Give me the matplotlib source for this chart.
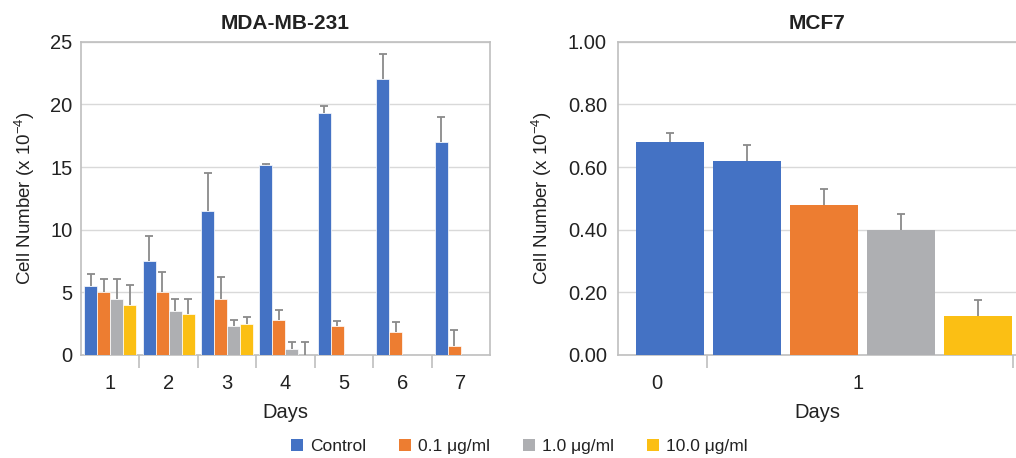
import numpy as np
import matplotlib
matplotlib.use("Agg")
import matplotlib.pyplot as plt
from matplotlib.patches import Patch

plt.rcParams['font.family'] = ['Liberation Sans', 'DejaVu Sans']

# ---- data: MDA-MB-231 ----
days = ["1", "2", "3", "4", "5", "6", "7"]
series = ["Control", "0.1 μg/ml", "1.0 μg/ml", "10.0 μg/ml"]
mda_control = [5.5, 7.5, 11.5, 15.2, 19.3, 22.0, 17.0]
mda_01 = [5.0, 5.0, 4.5, 2.8, 2.3, 1.8, 0.75]
mda_10 = [4.5, 3.5, 2.3, 0.5, np.nan, np.nan, np.nan]
mda_100 = [4.0, 3.3, 2.5, 0.0, np.nan, np.nan, np.nan]
mda_control_err = [1.0, 2.0, 3.0, 0.05, 0.6, 2.0, 2.0]
mda_01_err = [1.1, 1.6, 1.7, 0.8, 0.4, 0.8, 1.25]
mda_10_err = [1.6, 1.0, 0.5, 0.5, np.nan, np.nan, np.nan]
mda_100_err = [1.6, 1.2, 0.5, 1.0, np.nan, np.nan, np.nan]

# ---- data: MCF7 ----
mcf_labels = ["0", "1"]
mcf_series = ["Control", "Control", "0.1 μg/ml", "1.0 μg/ml", "10.0 μg/ml"]
mcf_values = [0.68, 0.62, 0.48, 0.40, 0.125]
mcf_err = [0.03, 0.05, 0.05, 0.05, 0.05]

colors = {"Control": "#4472C4", "0.1 μg/ml": "#ED7D31",
          "1.0 μg/ml": "#AEAFB2", "10.0 μg/ml": "#FBBF14"}
err_color = "#8A8A8A"
spine_color = "#BFBFBF"
grid_color = "#D9D9D9"
text_color = "#222222"
FS = 14.5


def upper_err(ax, pos, v, e):
    pos = np.asarray(pos, float)
    v = np.asarray(v, float)
    e = np.asarray(e, float)
    ok = ~np.isnan(v) & ~np.isnan(e)
    ax.vlines(pos[ok], v[ok], v[ok] + e[ok], color=err_color, linewidth=1.3,
              zorder=4)
    ax.plot(pos[ok], v[ok] + e[ok], linestyle="none", marker="_",
            markersize=6, markeredgewidth=1.3, color=err_color, zorder=4)


def style_axes(ax):
    ax.yaxis.grid(True, color=grid_color, linewidth=1, zorder=0)
    ax.set_axisbelow(True)
    for s in ax.spines.values():
        s.set_color(spine_color)
        s.set_linewidth(1.2)
    ax.tick_params(axis="x", which="major", length=9, width=1.2,
                   color=spine_color)
    ax.tick_params(axis="x", which="minor", length=0, pad=14, labelsize=FS,
                   labelcolor=text_color)
    ax.tick_params(axis="y", length=0, labelsize=FS, labelcolor=text_color,
                   pad=6)


fig = plt.figure(figsize=(10.16, 4.58), dpi=100)

# ---------- left chart ----------
ax1 = fig.add_axes([0.0797, 0.2249, 0.4026, 0.684])
x = np.arange(len(days))
group_w = 0.89
bw = group_w / 4
vals = [mda_control, mda_01, mda_10, mda_100]
errs = [mda_control_err, mda_01_err, mda_10_err, mda_100_err]
for i, (name, v, e) in enumerate(zip(series, vals, errs)):
    pos = x - group_w / 2 + bw * (i + 0.5)
    ax1.bar(pos, v, width=bw, color=colors[name], edgecolor="white",
            linewidth=0.5, zorder=3)
    upper_err(ax1, pos, v, e)
ax1.set_xlim(-0.5, len(days) - 0.5)
ax1.set_ylim(0, 25)
ax1.set_yticks(np.arange(0, 26, 5))
ax1.set_xticks(np.arange(0.5, len(days) - 1, 1))
ax1.set_xticklabels([])
ax1.set_xticks(x, minor=True)
ax1.set_xticklabels(days, minor=True)
style_axes(ax1)
ax1.set_title("MDA-MB-231", fontsize=15, fontweight="bold", pad=9,
              color=text_color)
ax1.set_xlabel("Days", fontsize=FS, color=text_color, labelpad=7)
ax1.set_ylabel("Cell Number (x 10$^{\\mathregular{-4}}$)", fontsize=13.5,
               color=text_color, labelpad=10)

# ---------- right chart ----------
ax2 = fig.add_axes([0.6083, 0.2249, 0.3917, 0.684])
xp = np.arange(len(mcf_values))
ax2.bar(xp, mcf_values, width=0.88, color=[colors[s] for s in mcf_series],
        zorder=3)
upper_err(ax2, xp, mcf_values, mcf_err)
ax2.set_xlim(-0.675, 4.49)
ax2.set_ylim(0, 1.0)
ax2.set_yticks(np.arange(0, 1.01, 0.2))
ax2.set_yticklabels([f"{v:.2f}" for v in np.arange(0, 1.01, 0.2)])
ax2.set_xticks([0.48, 4.455])
ax2.set_xticklabels([])
ax2.set_xticks([-0.17, 2.44], minor=True)
ax2.set_xticklabels(mcf_labels, minor=True)
style_axes(ax2)
ax2.tick_params(axis="y", pad=8)
ax2.spines["right"].set_visible(False)
ax2.set_title("MCF7", fontsize=15, fontweight="bold", pad=9,
              color=text_color)
ax2.set_xlabel("Days", fontsize=FS, color=text_color, labelpad=7)
ax2.set_ylabel("Cell Number (x 10$^{\\mathregular{-4}}$)", fontsize=13.5,
               color=text_color, labelpad=10)

# ---------- legend ----------
handles = [Patch(facecolor=colors[s], edgecolor="none") for s in series]
fig.legend(handles, series, loc="center", bbox_to_anchor=(0.511, 0.026),
           ncol=4, frameon=False, fontsize=12.5, handlelength=0.7,
           handleheight=0.7, handletextpad=0.4, columnspacing=1.9,
           labelcolor=text_color)

fig.savefig("out.png", dpi=100)
